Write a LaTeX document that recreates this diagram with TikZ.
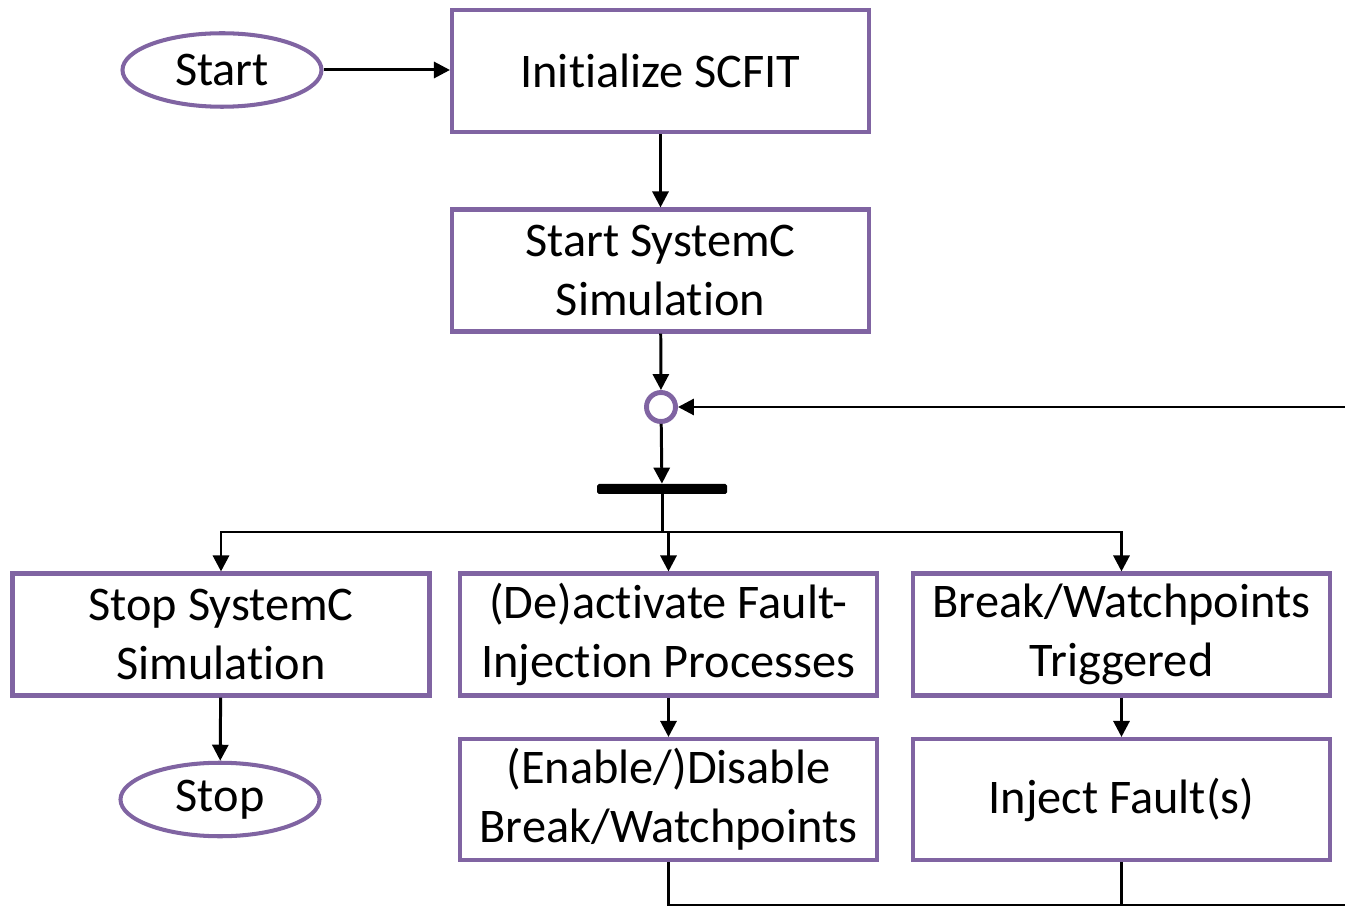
\documentclass[tikz,border=0pt]{standalone}
\usepackage{fontspec}
\setmainfont{Carlito}[Ligatures={NoCommon}]
\usepackage{tikz}
\usetikzlibrary{shapes.geometric, arrows.meta, positioning}
\usepackage{xcolor}
\definecolor{flowpurple}{RGB}{128,100,162}

\begin{document}
\begin{tikzpicture}[
  box/.style={rectangle, draw=flowpurple, line width=2.3pt, minimum width=8.34cm, minimum height=2.44cm, align=center, font=\fontsize{27.5}{33.5}\selectfont},
  terminal/.style={ellipse, draw=flowpurple, line width=2.3pt, minimum width=3.98cm, minimum height=1.47cm, inner sep=0pt, font=\fontsize{27.5}{33.5}\selectfont},
  merger/.style={circle, draw=flowpurple, line width=2.8pt, minimum size=0.58cm, inner sep=0pt},
  forkbar/.style={rectangle, fill=black, rounded corners=1pt, minimum width=2.6cm, minimum height=0.2cm, inner sep=0pt},
  arrow/.style={-{Triangle[length=3.2mm, width=3.2mm]}, line width=1.7pt},
  flow/.style={line width=1.7pt}
]
  \clip (0,0) rectangle (26.9,-18.14);

  % Setup
  \node[terminal] (start) at (4.44,-1.40) {Start};
  \node[box] (init) at (13.21,-1.42) {Initialize SCFIT};
  \node[box] (sim) at (13.21,-5.41) {Start SystemC\\Simulation};

  % Merge and fork
  \node[merger] (merge) at (13.22,-8.14) {};
  \node[forkbar] (bar) at (13.24,-9.78) {};
  \coordinate (split) at (13.24,-10.64);

  % Branches
  \node[box] (stopsim) at (4.42,-12.69) {Stop SystemC\\Simulation};
  \node[box] (deact) at (13.37,-12.69) {(De)activate Fault-\\Injection Processes};
  \node[box] (trig) at (22.43,-12.69) {Break/Watchpoints\\Triggered};
  \node[terminal] (stop) at (4.40,-15.99) {Stop};
  \node[box, minimum height=2.42cm] (disable) at (13.37,-15.99) {(Enable/)Disable\\Break/Watchpoints};
  \node[box, minimum height=2.42cm] (inject) at (22.43,-15.99) {Inject Fault(s)};
  \coordinate (loop) at (27.3,-18.1);

  % Connections
  \draw[arrow] (start.east) -- (init.west |- start.east);
  \draw[arrow] (init) -- (sim);
  \draw[arrow] (sim) -- (merge);
  \draw[arrow] (merge) -- (bar);
  \draw[flow] (bar) -- (split);
  \draw[flow] (stopsim.north |- split) -- (trig.north |- split);
  \draw[arrow] (split) -| (stopsim);
  \draw[arrow] (split) -| (deact);
  \draw[arrow] (split) -| (trig);
  \draw[arrow] (stopsim) -- (stop);
  \draw[arrow] (deact) -- (disable);
  \draw[arrow] (trig) -- (inject);

  % Loop back
  \draw[flow] (inject.south) -- (inject.south |- loop);
  \draw[arrow] (disable.south) |- (loop) |- (merge);
\end{tikzpicture}
\end{document}
